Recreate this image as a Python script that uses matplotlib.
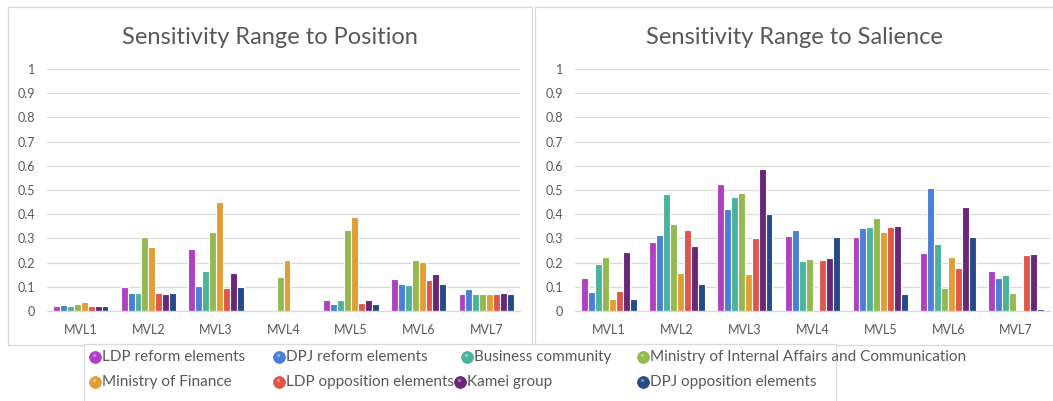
import matplotlib.pyplot as plt
import numpy as np
from matplotlib.patches import Rectangle

# data
categories = ["MVL1", "MVL2", "MVL3", "MVL4", "MVL5", "MVL6", "MVL7"]
actors = ["LDP reform elements", "DPJ reform elements", "Business community",
          "Ministry of Internal Affairs and Communication", "Ministry of Finance",
          "LDP opposition elements", "Kamei group", "DPJ opposition elements"]
colors = ["#AF40C3", "#4A7FD6", "#4BB39A", "#93B94F",
          "#E09E35", "#E0564A", "#6A2677", "#254A87"]

# sensitivity range to position, one list per actor (MVL1..MVL7)
position = [
    [0.022, 0.100, 0.255, 0.000, 0.045, 0.131, 0.069],
    [0.025, 0.073, 0.103, 0.004, 0.030, 0.112, 0.092],
    [0.022, 0.073, 0.167, 0.000, 0.045, 0.109, 0.069],
    [0.028, 0.305, 0.328, 0.141, 0.335, 0.210, 0.072],
    [0.037, 0.265, 0.450, 0.210, 0.388, 0.203, 0.069],
    [0.022, 0.073, 0.095, 0.000, 0.033, 0.128, 0.069],
    [0.022, 0.070, 0.156, 0.000, 0.045, 0.152, 0.073],
    [0.022, 0.073, 0.100, 0.000, 0.030, 0.110, 0.069],
]

# sensitivity range to salience
salience = [
    [0.136, 0.285, 0.525, 0.309, 0.305, 0.238, 0.166],
    [0.080, 0.314, 0.421, 0.335, 0.342, 0.510, 0.136],
    [0.194, 0.483, 0.472, 0.206, 0.348, 0.276, 0.147],
    [0.224, 0.360, 0.487, 0.213, 0.386, 0.093, 0.075],
    [0.050, 0.159, 0.154, 0.000, 0.328, 0.222, 0.000],
    [0.083, 0.334, 0.300, 0.209, 0.346, 0.177, 0.230],
    [0.242, 0.269, 0.587, 0.219, 0.352, 0.428, 0.237],
    [0.050, 0.112, 0.402, 0.307, 0.071, 0.307, 0.010],
]

W, H = 1053, 401
TXT = "#595959"
GRID = "#d9d9d9"
plt.rcParams["font.family"] = ["Lato", "DejaVu Sans"]


def px_rect(x0, y0, x1, y1):
    # pixel box (top-left origin) -> figure fraction [left, bottom, width, height]
    return [x0 / W, 1 - y1 / H, (x1 - x0) / W, (y1 - y0) / H]


def draw_panel(ax, values, title_x, title):
    n = len(values)
    group = 0.82
    slot = group / n
    x = np.arange(len(categories))
    for i, vals in enumerate(values):
        off = -group / 2 + slot * (i + 0.5)
        ax.bar(x + off, vals, width=slot, color=colors[i],
               edgecolor="white", linewidth=0.8)
    ax.set_xlim(-0.5, len(categories) - 0.5)
    ax.set_ylim(0, 1)
    ax.set_yticks(np.arange(0, 1.01, 0.1))
    ax.set_yticklabels(["0"] + [f"{v:.1f}" for v in np.arange(0.1, 0.95, 0.1)] + ["1"])
    ax.set_xticks(x)
    ax.set_xticklabels(categories)
    ax.tick_params(axis="both", length=0, colors=TXT, labelsize=9)
    ax.tick_params(axis="y", pad=8.5)
    ax.tick_params(axis="x", pad=9)
    ax.grid(axis="y", color=GRID, linewidth=0.9)
    ax.set_axisbelow(True)
    for s in ["top", "right", "left"]:
        ax.spines[s].set_visible(False)
    ax.spines["bottom"].set_color(GRID)
    ax.spines["bottom"].set_linewidth(0.9)
    fig.text(title_x / W, 1 - 37 / H, title, ha="center", va="center",
             fontsize=17, color=TXT)


fig = plt.figure(figsize=(W / 100, H / 100), dpi=100)

# chart frames, kept behind the axes
for x0, x1 in [(8, 532), (535, 1060)]:
    b = px_rect(x0, 7, x1, 345)
    fig.add_artist(Rectangle((b[0], b[1]), b[2], b[3], transform=fig.transFigure,
                             facecolor="white", edgecolor=GRID, linewidth=0.9,
                             zorder=-1))

ax1 = fig.add_axes(px_rect(47, 69, 520, 311))
ax2 = fig.add_axes(px_rect(575, 69, 1050, 311))
for ax in (ax1, ax2):
    ax.patch.set_alpha(0)
draw_panel(ax1, position, 270, "Sensitivity Range to Position")
draw_panel(ax2, salience, 794, "Sensitivity Range to Salience")

# legend laid out by hand in pixel space (Excel lets "Kamei group" crowd its neighbour)
lg = fig.add_axes([0, 0, 1, 1], zorder=5)
lg.set_xlim(0, W)
lg.set_ylim(H, 0)
lg.axis("off")
lg.add_patch(Rectangle((84, 344), 752, 70, facecolor="white", edgecolor=GRID,
                       linewidth=0.9))
marker_x = [95, 279, 467, 643, 95, 279, 460, 643]
marker_y = [357, 357, 357, 357, 382, 382, 382, 382]
for name, c, mx, my in zip(actors, colors, marker_x, marker_y):
    lg.plot(mx, my, marker="o", markersize=8.5, color=c,
            markeredgecolor=c, markeredgewidth=0.6)
    lg.plot(mx - 1.3, my - 1.6, marker="o", markersize=2.5, color="white",
            alpha=0.35, markeredgewidth=0)
    lg.text(mx + 7, my, name, ha="left", va="center", fontsize=11, color=TXT)

fig.savefig("out.png", dpi=100)
